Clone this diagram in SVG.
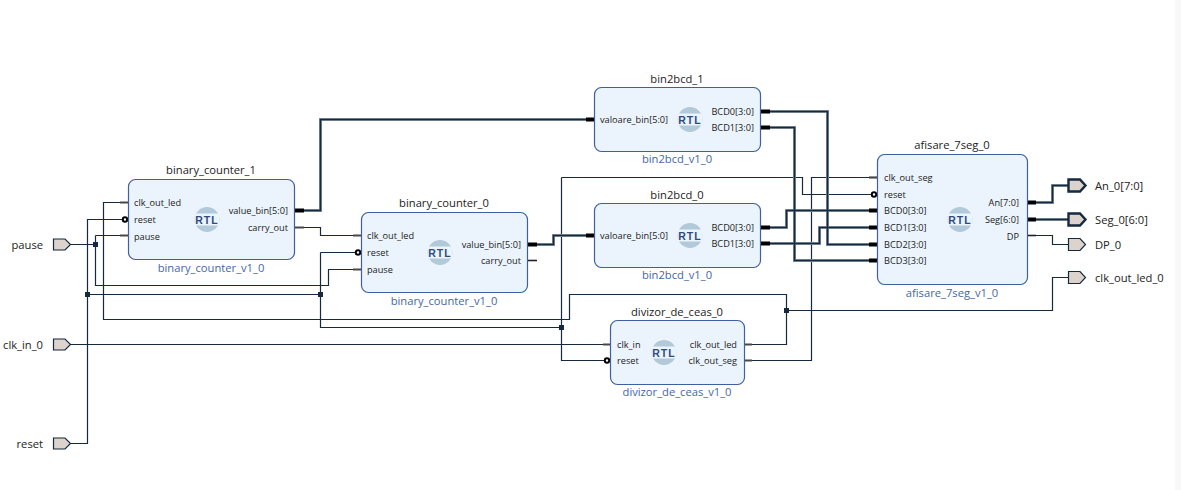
<svg xmlns="http://www.w3.org/2000/svg" width="1181" height="490" viewBox="0 0 1181 490">
<style>
text{font-family:"Open Sans","Noto Sans","DejaVu Sans",sans-serif;fill:#222}
.t{font-size:11.2px;text-anchor:middle}
.v{font-size:11.2px;text-anchor:middle;fill:#4466a8}
.p{font-size:9.2px}
.pt{font-size:11.2px}
.box{fill:#ebf4fd;stroke:#3f5f9f;stroke-width:1.2}
.w{fill:none;stroke:#15293f;stroke-width:1.2}
.bh{fill:none;stroke:#8b98a3;stroke-width:3}
.b{fill:none;stroke:#15293f;stroke-width:1.6}
.s{stroke:#4a4845;stroke-width:2.2}
.sd{stroke:#222;stroke-width:1.6}
.sb{stroke:#000;stroke-width:4}
.c{fill:#fff;stroke:#000;stroke-width:2}
.j{fill:#15293f}
.port{fill:#dcd3cd;stroke:#15293f;stroke-width:1.2}
.portb{fill:#dcd3cd;stroke:#15293f;stroke-width:2.4}
.rtl{font-size:10.5px;font-weight:700;fill:#2d4c80;text-anchor:middle;letter-spacing:1.1px;font-family:"Liberation Sans",sans-serif}
</style>
<defs>
<g id="rtl">
<circle r="12.5" fill="#b1c9d8"/>
<rect x="-12.5" y="-6" width="25" height="12" fill="#ebf4fd"/>
<text class="rtl" y="4">RTL</text>
</g>
</defs>
<rect width="1181" height="490" fill="#fff"/>
<rect x="1175" width="6" height="490" fill="#f8f8f8"/>
<g id="connectors">
<path class="w" d="M70 244.5H95.5M95.5 235.5V285.5H328.5V269.5H355M95.5 235.5H120"/>
<path class="w" d="M70 344.5H604"/>
<path class="w" d="M70 443.5H87.5V219.5H122M87.5 294.5H320.5M320.5 252.5H355M320.5 252.5V327.5H561.5M561.5 177.5V360.5H605M561.5 177.5H802.5V194.5H872"/>
<path class="w" d="M120 202.5H103.5V319.5H569.5V294.5H786.5V344.5H752M786.5 310.5H1052.5V277.5H1068"/>
<path class="w" d="M302 227.5H320.5V235.5H355"/>
<path class="w" d="M752 360.5H811.5V177.5H870"/>
<path class="w" d="M1035 235.5H1052.5V244.5H1068"/>
<path class="bh" d="M302 210.5H320.5V119.5H587M535 244.5H553.5V235.5H587M769 111.5H827.5V244.5H870M769 127.5H794.5V260.5H870M769 227.5H786.5V210.5H870M769 243.5H819.5V227.5H870M1035 202.5H1052.5V185.5H1068M1035 219.5H1068"/>
<path class="b" d="M302 210.5H320.5V119.5H587M535 244.5H553.5V235.5H587M769 111.5H827.5V244.5H870M769 127.5H794.5V260.5H870M769 227.5H786.5V210.5H870M769 243.5H819.5V227.5H870M1035 202.5H1052.5V185.5H1068M1035 219.5H1068"/>
<rect class="j" x="93" y="242" width="5" height="5"/>
<rect class="j" x="85" y="292" width="5" height="5"/>
<rect class="j" x="318" y="292" width="5" height="5"/>
<rect class="j" x="559" y="325" width="5" height="5"/>
<rect class="j" x="784" y="308" width="5" height="5"/>
</g>
<g id="pause"><text class="pt" x="43" y="248.5" text-anchor="end">pause</text><path class="port" d="M53.5 239H65L70.5 244.5L65 250H53.5Z"/></g>
<g id="clk_in_0"><text class="pt" x="43" y="348.5" text-anchor="end">clk_in_0</text><path class="port" d="M53.5 339H65L70.5 344.5L65 350H53.5Z"/></g>
<g id="reset"><text class="pt" x="43" y="447.5" text-anchor="end">reset</text><path class="port" d="M53.5 438H65L70.5 443.5L65 449H53.5Z"/></g>
<g id="An_0"><path class="portb" d="M1068.5 179.5H1080L1085.5 185.5L1080 191.5H1068.5Z"/><text class="pt" x="1095" y="189.5">An_0[7:0]</text></g>
<g id="Seg_0"><path class="portb" d="M1068.5 213.5H1080L1085.5 219.5L1080 225.5H1068.5Z"/><text class="pt" x="1095" y="223.5">Seg_0[6:0]</text></g>
<g id="DP_0"><path class="port" d="M1068.5 238.5H1080L1085.5 244.5L1080 250.5H1068.5Z"/><text class="pt" x="1095" y="248.5">DP_0</text></g>
<g id="clk_out_led_0"><path class="port" d="M1068.5 271.5H1080L1085.5 277.5L1080 283.5H1068.5Z"/><text class="pt" x="1095" y="281.5">clk_out_led_0</text></g>
<g id="binary_counter_1">
<text class="t" x="211" y="174">binary_counter_1</text>
<path class="s" d="M120 202.5H128M120 235.5H128M294 227.5H304"/><path class="sb" d="M295 210.5H304"/><circle class="c" cx="125" cy="219.5" r="2.2"/>
<rect class="box" x="128.5" y="179.5" width="166" height="80" rx="7"/>
<use href="#rtl" x="207" y="219.5"/>
<text class="p" x="134" y="206">clk_out_led</text><text class="p" x="134" y="223">reset</text><text class="p" x="134" y="240">pause</text>
<text class="p" x="288" y="214" text-anchor="end">value_bin[5:0]</text><text class="p" x="288" y="231" text-anchor="end">carry_out</text>
<text class="v" x="211" y="272">binary_counter_v1_0</text>
</g>
<g id="binary_counter_0">
<text class="t" x="444" y="207">binary_counter_0</text>
<path class="s" d="M353 235.5H361M353 269.5H361"/><path class="sd" d="M527 260.5H537"/><path class="sb" d="M528 244.5H537"/><circle class="c" cx="358" cy="252.5" r="2.2"/>
<rect class="box" x="361.5" y="212.5" width="166" height="80" rx="7"/>
<use href="#rtl" x="440" y="252.5"/>
<text class="p" x="367" y="239">clk_out_led</text><text class="p" x="367" y="256">reset</text><text class="p" x="367" y="273">pause</text>
<text class="p" x="521" y="248" text-anchor="end">value_bin[5:0]</text><text class="p" x="521" y="264" text-anchor="end">carry_out</text>
<text class="v" x="444" y="305">binary_counter_v1_0</text>
</g>
<g id="bin2bcd_1">
<text class="t" x="677" y="83">bin2bcd_1</text>
<path class="sb" d="M586 119.5H594M761 111.5H770M761 127.5H770"/>
<rect class="box" x="594.5" y="87.5" width="166" height="64" rx="7"/>
<use href="#rtl" x="690" y="119.5"/>
<text class="p" x="600" y="123">valoare_bin[5:0]</text>
<text class="p" x="754" y="115" text-anchor="end">BCD0[3:0]</text><text class="p" x="754" y="131" text-anchor="end">BCD1[3:0]</text>
<text class="v" x="677" y="163">bin2bcd_v1_0</text>
</g>
<g id="bin2bcd_0">
<text class="t" x="677" y="199">bin2bcd_0</text>
<path class="sb" d="M586 235.5H594M761 227.5H770M761 243.5H770"/>
<rect class="box" x="594.5" y="203.5" width="166" height="64" rx="7"/>
<use href="#rtl" x="690" y="235.5"/>
<text class="p" x="600" y="239">valoare_bin[5:0]</text>
<text class="p" x="754" y="231" text-anchor="end">BCD0[3:0]</text><text class="p" x="754" y="247" text-anchor="end">BCD1[3:0]</text>
<text class="v" x="677" y="279">bin2bcd_v1_0</text>
</g>
<g id="afisare_7seg_0">
<text class="t" x="952" y="149">afisare_7seg_0</text>
<path class="s" d="M869 177.5H877"/><path class="sd" d="M1028 235.5H1036"/><path class="sb" d="M869 210.5H877M869 227.5H877M869 244.5H877M869 260.5H877M1028 202.5H1036M1028 219.5H1036"/><circle class="c" cx="874" cy="194.5" r="2.2"/>
<rect class="box" x="877.5" y="154.5" width="150" height="130" rx="7"/>
<use href="#rtl" x="960" y="219.5"/>
<text class="p" x="884" y="181">clk_out_seg</text><text class="p" x="884" y="198">reset</text><text class="p" x="884" y="214">BCD0[3:0]</text><text class="p" x="884" y="231">BCD1[3:0]</text><text class="p" x="884" y="248">BCD2[3:0]</text><text class="p" x="884" y="264">BCD3[3:0]</text>
<text class="p" x="1019" y="206" text-anchor="end">An[7:0]</text><text class="p" x="1019" y="223" text-anchor="end">Seg[6:0]</text><text class="p" x="1019" y="240" text-anchor="end">DP</text>
<text class="v" x="952" y="297">afisare_7seg_v1_0</text>
</g>
<g id="divizor_de_ceas_0">
<text class="t" x="677" y="316">divizor_de_ceas_0</text>
<path class="s" d="M603 344.5H611M744 344.5H752M744 360.5H752"/><circle class="c" cx="607" cy="360.5" r="2.2"/>
<rect class="box" x="610.5" y="320.5" width="134" height="64" rx="7"/>
<use href="#rtl" x="664" y="352.5"/>
<text class="p" x="617" y="348">clk_in</text><text class="p" x="617" y="364">reset</text>
<text class="p" x="737" y="348" text-anchor="end">clk_out_led</text><text class="p" x="737" y="364" text-anchor="end">clk_out_seg</text>
<text class="v" x="677" y="396">divizor_de_ceas_v1_0</text>
</g>
</svg>
